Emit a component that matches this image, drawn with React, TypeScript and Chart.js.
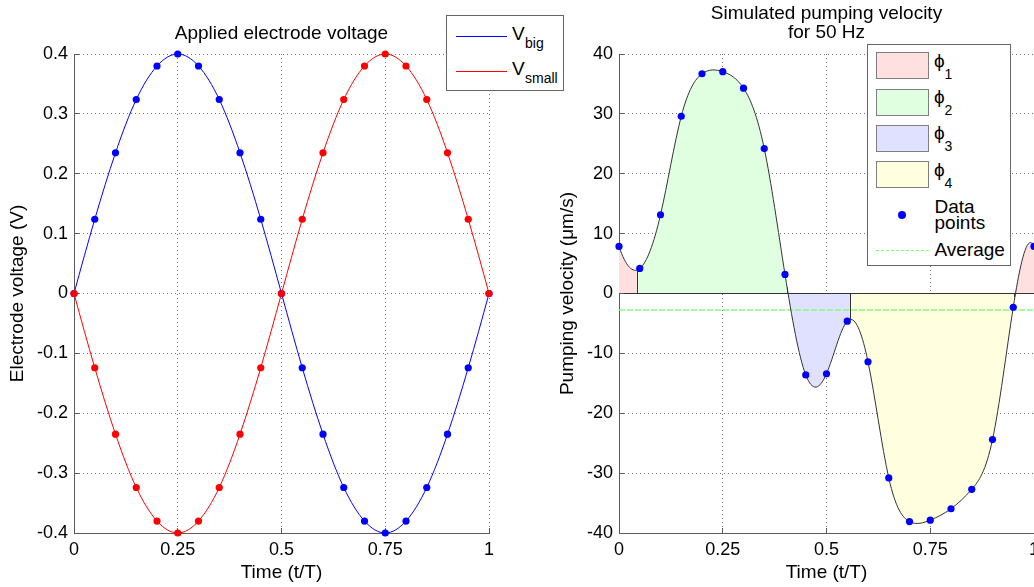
import React, { useEffect, useRef } from 'react';
import { Chart, registerables } from 'chart.js';

Chart.register(...registerables);

// ---------------- data ----------------
const timePoints = [0, 0.05, 0.1, 0.15, 0.2, 0.25, 0.3, 0.35, 0.4, 0.45, 0.5, 0.55, 0.6, 0.65, 0.7, 0.75, 0.8, 0.85, 0.9, 0.95, 1];
const vBig = [0, 0.124, 0.235, 0.324, 0.38, 0.4, 0.38, 0.324, 0.235, 0.124, 0, -0.124, -0.235, -0.324, -0.38, -0.4, -0.38, -0.324, -0.235, -0.124, 0];
const vSmall = [0, -0.124, -0.235, -0.324, -0.38, -0.4, -0.38, -0.324, -0.235, -0.124, 0, 0.124, 0.235, 0.324, 0.38, 0.4, 0.38, 0.324, 0.235, 0.124, 0];
const pumpingVelocity = [7.86, 4.18, 13.15, 29.6, 36.7, 37.05, 34.3, 24.2, 3.18, -13.6, -13.4, -4.63, -11.4, -30.8, -38.1, -37.85, -35.95, -32.7, -24.4, -2.3, 7.86];
const averageVelocity = -2.74;
const timeTickStep = 0.25;
const voltageMin = -0.4;
const voltageMax = 0.4;
const voltageStep = 0.1;
const velocityMin = -40;
const velocityMax = 40;
const velocityStep = 10;
// phase spans along t/T : boundaries and which phase each span belongs to
const phaseBoundaries = [0, 0.045, 0.405, 0.559, 0.954, 1];
const spanPhase = [0, 1, 2, 3, 0];
const phaseNumbers = ['1', '2', '3', '4'];

// ---------------- styles ----------------
const FONT = '"Liberation Sans", Arial, Helvetica, sans-serif';
const phaseColors = ['rgb(255,224,224)', 'rgb(224,255,224)', 'rgb(224,224,255)', 'rgb(255,255,224)'];
const AXIS_COLOR = '#5a5a5a';
const GRID_COLOR = 'rgba(0,0,0,0.55)';
const AVG_COLOR = '#7dff7d';

// ---------------- cubic spline (not-a-knot) ----------------
function splineSlopes(xs: number[], ys: number[]): number[] {
  const n = xs.length;
  const h: number[] = [];
  for (let i = 0; i < n - 1; i++) h.push(xs[i + 1] - xs[i]);
  const A: number[][] = Array.from({ length: n }, () => new Array(n).fill(0));
  const b: number[] = new Array(n).fill(0);
  A[0][0] = h[1]; A[0][1] = -(h[0] + h[1]); A[0][2] = h[0];
  for (let i = 1; i < n - 1; i++) {
    A[i][i - 1] = h[i - 1];
    A[i][i] = 2 * (h[i - 1] + h[i]);
    A[i][i + 1] = h[i];
    b[i] = 6 * ((ys[i + 1] - ys[i]) / h[i] - (ys[i] - ys[i - 1]) / h[i - 1]);
  }
  A[n - 1][n - 3] = h[n - 2]; A[n - 1][n - 2] = -(h[n - 3] + h[n - 2]); A[n - 1][n - 1] = h[n - 3];
  for (let c = 0; c < n; c++) {
    let p = c;
    for (let r = c + 1; r < n; r++) if (Math.abs(A[r][c]) > Math.abs(A[p][c])) p = r;
    if (p !== c) { const t = A[p]; A[p] = A[c]; A[c] = t; const tb = b[p]; b[p] = b[c]; b[c] = tb; }
    for (let r = c + 1; r < n; r++) {
      const f = A[r][c] / A[c][c];
      if (f === 0) continue;
      for (let k = c; k < n; k++) A[r][k] -= f * A[c][k];
      b[r] -= f * b[c];
    }
  }
  const M = new Array(n).fill(0);
  for (let r = n - 1; r >= 0; r--) {
    let s = b[r];
    for (let k = r + 1; k < n; k++) s -= A[r][k] * M[k];
    M[r] = s / A[r][r];
  }
  const s: number[] = [];
  for (let i = 0; i < n - 1; i++) s.push((ys[i + 1] - ys[i]) / h[i] - (h[i] * (2 * M[i] + M[i + 1])) / 6);
  s.push((ys[n - 1] - ys[n - 2]) / h[n - 2] + (h[n - 2] * (M[n - 2] + 2 * M[n - 1])) / 6);
  return s;
}

function evalSpline(sp: { xs: number[]; ys: number[]; s: number[] }, x: number): number {
  const { xs, ys, s } = sp;
  let i = 0;
  while (i < xs.length - 2 && x > xs[i + 1]) i++;
  const h = xs[i + 1] - xs[i];
  const t = (x - xs[i]) / h;
  const t2 = t * t, t3 = t2 * t;
  return (2 * t3 - 3 * t2 + 1) * ys[i] + (t3 - 2 * t2 + t) * h * s[i] + (-2 * t3 + 3 * t2) * ys[i + 1] + (t3 - t2) * h * s[i + 1];
}

const splinePlugin = {
  id: 'cubicSpline',
  afterDatasetUpdate(chart: any, args: any) {
    const ds = chart.data.datasets[args.index];
    if (!ds || !ds.spline) return;
    const meta = args.meta;
    const pts = meta.data as any[];
    if (!pts || pts.length < 4) return;
    const xs = pts.map((p) => p.x);
    const ys = pts.map((p) => p.y);
    const s = splineSlopes(xs, ys);
    const n = pts.length;
    for (let i = 0; i < n; i++) {
      const hp = i > 0 ? xs[i] - xs[i - 1] : 0;
      const hn = i < n - 1 ? xs[i + 1] - xs[i] : 0;
      pts[i].cp1x = xs[i] - hp / 3;
      pts[i].cp1y = ys[i] - (s[i] * hp) / 3;
      pts[i].cp2x = xs[i] + hn / 3;
      pts[i].cp2y = ys[i] + (s[i] * hn) / 3;
    }
    if (meta.dataset) meta.dataset._pointsUpdated = true;
    meta._spline = { xs, ys, s };
  },
};

const phaseFillPlugin = {
  id: 'phaseFill',
  beforeDatasetsDraw(chart: any) {
    const meta = chart.getDatasetMeta(0);
    const line = meta.dataset;
    const sp = meta._spline;
    if (!line || !sp) return;
    const { ctx, chartArea: a } = chart;
    const xS = chart.scales.x, yS = chart.scales.y;
    const y0 = yS.getPixelForValue(0);
    const pts = meta.data;
    for (let k = 0; k < spanPhase.length; k++) {
      const x1 = xS.getPixelForValue(phaseBoundaries[k]);
      const x2 = xS.getPixelForValue(phaseBoundaries[k + 1]);
      ctx.save();
      ctx.beginPath();
      ctx.rect(x1, a.top, x2 - x1, a.bottom - a.top);
      ctx.clip();
      ctx.beginPath();
      line.path(ctx);
      ctx.lineTo(pts[pts.length - 1].x, y0);
      ctx.lineTo(pts[0].x, y0);
      ctx.closePath();
      ctx.fillStyle = phaseColors[spanPhase[k]];
      ctx.fill();
      ctx.restore();
    }
    ctx.save();
    ctx.setLineDash([]);
    ctx.strokeStyle = '#333';
    ctx.lineWidth = 1;
    ctx.beginPath();
    const yz = Math.round(y0 - 0.5) + 0.5;
    ctx.moveTo(a.left, yz);
    ctx.lineTo(a.right, yz);
    for (let k = 1; k < phaseBoundaries.length - 1; k++) {
      const xb = xS.getPixelForValue(phaseBoundaries[k]);
      const xa = Math.round(xb - 0.5) + 0.5;
      ctx.moveTo(xa, yz);
      ctx.lineTo(xa, evalSpline(sp, xb));
    }
    ctx.stroke();
    ctx.restore();
  },
};

const innerTicksPlugin = {
  id: 'innerTicks',
  beforeDatasetsDraw(chart: any) {
    const { ctx, chartArea: a, scales } = chart;
    const xS = scales.x, yS = scales.y;
    const al = (p: number) => Math.round(p - 0.5) + 0.5;
    ctx.save();
    ctx.setLineDash([]);
    ctx.strokeStyle = AXIS_COLOR;
    ctx.lineWidth = 1;
    ctx.beginPath();
    xS.ticks.forEach((t: any) => {
      const px = al(xS.getPixelForValue(t.value));
      ctx.moveTo(px, a.bottom);
      ctx.lineTo(px, a.bottom - 5);
    });
    yS.ticks.forEach((t: any) => {
      const py = al(yS.getPixelForValue(t.value));
      ctx.moveTo(a.left, py);
      ctx.lineTo(a.left + 5, py);
    });
    ctx.stroke();
    ctx.restore();
  },
};

function buildScales(yMin: number, yMax: number, yStep: number, yTitle: string, yWidth: number, yTitlePad: number) {
  const grid = { color: GRID_COLOR, lineWidth: 1, drawTicks: false };
  const border = { display: true, color: AXIS_COLOR, width: 1, dash: [1, 3] };
  return {
    x: {
      type: 'linear',
      min: 0,
      max: 1,
      afterFit: (s: any) => { s.height = 54; },
      grid,
      border,
      ticks: {
        stepSize: timeTickStep,
        padding: 6,
        color: '#000',
        font: { size: 18 },
        maxRotation: 0,
        autoSkip: false,
        callback: (v: any) => String(+Number(v).toFixed(2)),
      },
      title: { display: true, text: 'Time (t/T)', color: '#000', font: { size: 19 }, padding: { top: 0, bottom: 3 } },
    },
    y: {
      type: 'linear',
      min: yMin,
      max: yMax,
      afterFit: (s: any) => { s.width = yWidth; },
      grid,
      border,
      ticks: {
        stepSize: yStep,
        padding: 6,
        color: '#000',
        font: { size: 18 },
        callback: (v: any) => String(+Number(v).toFixed(2)),
      },
      title: { display: true, text: yTitle, color: '#000', font: { size: 19 }, padding: { top: yTitlePad, bottom: 0 } },
    },
  };
}

function leftConfig(): any {
  return {
    type: 'line',
    data: {
      datasets: [
        {
          label: 'Vbig',
          data: timePoints.map((t, i) => ({ x: t, y: vBig[i] })),
          spline: true,
          clip: 10,
          borderColor: '#0000ff',
          borderWidth: 1,
          tension: 0.4,
          pointRadius: 3.6,
          pointBackgroundColor: '#0000ff',
          pointBorderColor: '#0000ff',
          pointBorderWidth: 0,
          fill: false,
          order: 2,
        },
        {
          label: 'Vsmall',
          data: timePoints.map((t, i) => ({ x: t, y: vSmall[i] })),
          spline: true,
          clip: 10,
          borderColor: '#ff0000',
          borderWidth: 1,
          tension: 0.4,
          pointRadius: 3.6,
          pointBackgroundColor: '#ff0000',
          pointBorderColor: '#ff0000',
          pointBorderWidth: 0,
          fill: false,
          order: 1,
        },
      ],
    },
    options: {
      responsive: false,
      animation: false,
      events: [],
      layout: { padding: { left: 0, right: 31, top: 0, bottom: 0 } },
      scales: buildScales(voltageMin, voltageMax, voltageStep, 'Electrode voltage (V)', 74, 6.6),
      plugins: {
        legend: { display: false },
        tooltip: { enabled: false },
        title: {
          display: true,
          text: 'Applied electrode voltage',
          fullSize: false,
          color: '#000',
          font: { size: 19, weight: 'normal', lineHeight: 1 },
          padding: { top: 24, bottom: 11 },
        },
      },
    },
    plugins: [splinePlugin, innerTicksPlugin],
  };
}

function rightConfig(): any {
  return {
    type: 'line',
    data: {
      datasets: [
        {
          label: 'Data points',
          data: timePoints.map((t, i) => ({ x: t, y: pumpingVelocity[i] })),
          spline: true,
          clip: 10,
          borderColor: '#333333',
          borderWidth: 1,
          tension: 0.4,
          pointRadius: 3.6,
          pointBackgroundColor: '#0000ff',
          pointBorderColor: '#0000ff',
          pointBorderWidth: 0,
          fill: false,
        },
        {
          label: 'Average',
          data: [{ x: 0, y: averageVelocity }, { x: 1, y: averageVelocity }],
          borderColor: AVG_COLOR,
          borderWidth: 1.5,
          borderDash: [6, 2],
          pointRadius: 0,
          fill: false,
        },
      ],
    },
    options: {
      responsive: false,
      animation: false,
      events: [],
      layout: { padding: { left: 0, right: 26, top: 0, bottom: 0 } },
      scales: buildScales(velocityMin, velocityMax, velocityStep, 'Pumping velocity (\u03bcm/s)', 79, 16.6),
      plugins: {
        legend: { display: false },
        tooltip: { enabled: false },
        title: {
          display: true,
          text: ['Simulated pumping velocity', 'for 50 Hz'],
          fullSize: false,
          color: '#000',
          font: { size: 19, weight: 'normal', lineHeight: 1 },
          padding: { top: 4.6, bottom: 11.4 },
        },
      },
    },
    plugins: [splinePlugin, phaseFillPlugin, innerTicksPlugin],
  };
}

// ---------------- HTML legend helpers ----------------
const Txt = ({ x, y, size, children }: { x: number; y: number; size: number; children: React.ReactNode }) => (
  <span
    style={{
      position: 'absolute',
      left: x,
      top: y - 0.6 * size,
      fontSize: size,
      lineHeight: `${1.2 * size}px`,
      whiteSpace: 'nowrap',
      color: '#000',
      fontFamily: FONT,
    }}
  >
    {children}
  </span>
);

const HLine = ({ x, y, w, color, dashed }: { x: number; y: number; w: number; color: string; dashed?: boolean }) => (
  <div
    style={{
      position: 'absolute',
      left: x,
      top: y - 0.5,
      width: w,
      height: 0,
      borderTop: `${dashed ? 1.5 : 1}px ${dashed ? 'dashed' : 'solid'} ${color}`,
    }}
  />
);

export default function App() {
  const leftRef = useRef<HTMLCanvasElement>(null);
  const rightRef = useRef<HTMLCanvasElement>(null);

  useEffect(() => {
    Chart.defaults.font.family = FONT;
    Chart.defaults.color = '#000';
    const left = new Chart(leftRef.current as HTMLCanvasElement, leftConfig());
    const right = new Chart(rightRef.current as HTMLCanvasElement, rightConfig());
    return () => {
      left.destroy();
      right.destroy();
    };
  }, []);

  const patchTops = [52, 88.7, 124.7, 161];

  return (
    <div
      style={{
        position: 'fixed',
        left: 0,
        top: 0,
        width: 1034,
        height: 587,
        overflow: 'hidden',
        background: '#fff',
        fontFamily: FONT,
      }}
    >
      <div style={{ position: 'absolute', left: 0, top: 0, width: 520, height: 587 }}>
        <canvas ref={leftRef} width={520} height={587} style={{ display: 'block' }} />
      </div>
      <div style={{ position: 'absolute', left: 540, top: 0, width: 520, height: 587 }}>
        <canvas ref={rightRef} width={520} height={587} style={{ display: 'block' }} />
      </div>

      {/* left legend */}
      <div
        style={{
          position: 'absolute',
          left: 446,
          top: 15,
          width: 118,
          height: 76,
          boxSizing: 'border-box',
          border: '1px solid #666',
          background: '#fff',
        }}
      />
      <HLine x={456} y={36} w={51} color="#0000ff" />
      <Txt x={512} y={34} size={19}>V</Txt>
      <Txt x={525} y={43} size={14}>big</Txt>
      <HLine x={456} y={71} w={51} color="#ff0000" />
      <Txt x={512} y={69} size={19}>V</Txt>
      <Txt x={525} y={78} size={14}>small</Txt>

      {/* right legend */}
      <div
        style={{
          position: 'absolute',
          left: 867,
          top: 44,
          width: 144,
          height: 222,
          boxSizing: 'border-box',
          border: '1px solid #666',
          background: '#fff',
        }}
      />
      {phaseNumbers.map((num, i) => (
        <React.Fragment key={num}>
          <div
            style={{
              position: 'absolute',
              left: 876,
              top: patchTops[i],
              width: 53,
              height: 27,
              boxSizing: 'border-box',
              border: '1px solid #7f7f7f',
              background: phaseColors[i],
            }}
          />
          <Txt x={934} y={patchTops[i] + 9} size={19}>{'\u03d5'}</Txt>
          <Txt x={944.5} y={patchTops[i] + 22} size={14}>{num}</Txt>
        </React.Fragment>
      ))}
      <div
        style={{
          position: 'absolute',
          left: 898.3,
          top: 211,
          width: 8,
          height: 8,
          borderRadius: '50%',
          background: '#0000ff',
        }}
      />
      <Txt x={934.5} y={207} size={19}>Data</Txt>
      <Txt x={934.5} y={223} size={19}>points</Txt>
      <HLine x={876} y={250} w={53} color={AVG_COLOR} dashed />
      <Txt x={934.5} y={250} size={19}>Average</Txt>
    </div>
  );
}
